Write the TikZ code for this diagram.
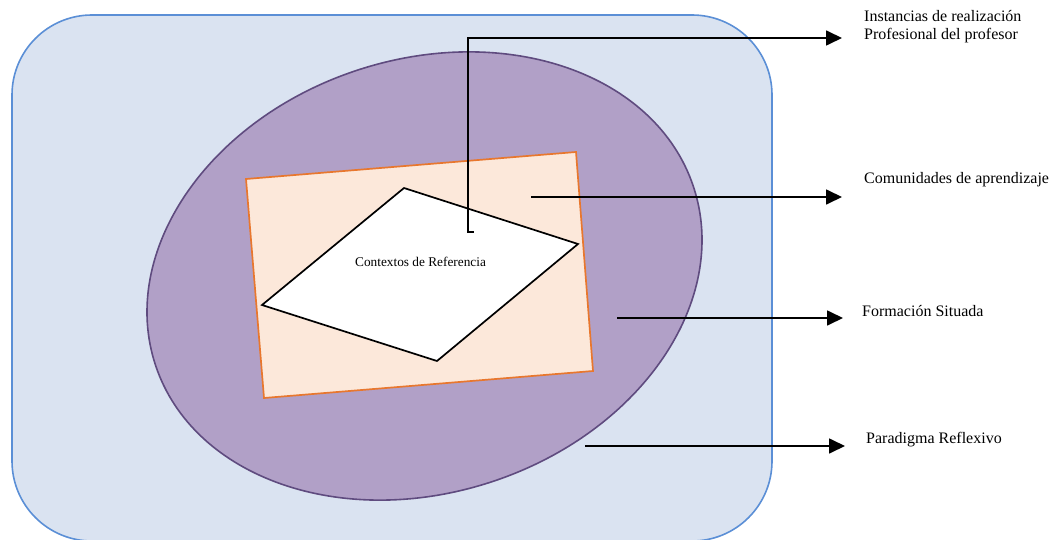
\documentclass[tikz,border=0pt]{standalone}
\usepackage{fontspec}
\setmainfont{Liberation Serif}
\usetikzlibrary{arrows.meta}
\definecolor{outerfill}{HTML}{DAE3F1}
\definecolor{outerline}{HTML}{5B8FD6}
\definecolor{ellfill}{HTML}{B1A0C7}
\definecolor{ellline}{HTML}{5F4B7F}
\definecolor{quadfill}{HTML}{FCE8DA}
\definecolor{quadline}{HTML}{E8772E}
\tikzset{
  outerbox/.style={fill=outerfill, draw=outerline, line width=1.6pt, rounded corners=80pt},
  ellbox/.style={fill=ellfill, draw=ellline, line width=1.6pt},
  quadbox/.style={fill=quadfill, draw=quadline, line width=1.7pt, line join=miter},
  whitebox/.style={fill=white, draw=black, line width=1.7pt, line join=miter},
  conn/.style={draw=black, line width=1.7pt, -{Triangle[length=16pt,width=15pt]}},
  lbl/.style={anchor=base west, inner sep=0pt, font=\fontsize{16}{18}\selectfont, align=left},
  inlbl/.style={anchor=base west, inner sep=0pt, font=\fontsize{13.3}{15}\selectfont}
}
\begin{document}
\begin{tikzpicture}[x=1pt,y=-1pt]
\useasboundingbox (0,0) rectangle (1051,540);
\begin{scope}
\clip (0,0) rectangle (1051,540);
\path[outerbox] (12,15) rectangle (772,541);
\end{scope}
\path[ellbox, rotate around={18.4:(424.5,276)}] (424.5,276) ellipse [x radius=283.4pt, y radius=216.5pt];
\coordinate (q1) at (246,179);
\coordinate (q2) at (576,152);
\coordinate (q3) at (593,371);
\coordinate (q4) at (264,398);
\path[quadbox] (q1) -- (q2) -- (q3) -- (q4) -- cycle;
\coordinate (w1) at (404,188);
\coordinate (w2) at (578,244);
\coordinate (w3) at (437,361);
\coordinate (w4) at (262,305);
\path[whitebox] (w1) -- (w2) -- (w3) -- (w4) -- cycle;
\node[inlbl] (ctx) at (355,266.5) {Contextos de Referencia};
% labels
\node[lbl] (l1a) at (864,21.5) {Instancias de realización};
\node[lbl] (l1b) at (864,39.5) {Profesional del profesor};
\node[lbl] (l2) at (864,183) {Comunidades de aprendizaje};
\node[lbl] (l3) at (862,316) {Formación Situada};
\node[lbl] (l4) at (866,443) {Paradigma Reflexivo};
% arrows
\coordinate (a1s) at (473.5,232);
\coordinate (a1b) at (468,232);
\coordinate (a1c) at (468,38);
\coordinate (a1e) at (842,38);
\draw[conn] (a1s) -- (a1b) -- (a1c) -- (a1e);
\coordinate (a2s) at (531,197);
\coordinate (a2e) at (842,197);
\draw[conn] (a2s) -- (a2e);
\coordinate (a3s) at (617,318);
\coordinate (a3e) at (843,318);
\draw[conn] (a3s) -- (a3e);
\coordinate (a4s) at (585,446);
\coordinate (a4e) at (845,446);
\draw[conn] (a4s) -- (a4e);
\end{tikzpicture}
\end{document}
